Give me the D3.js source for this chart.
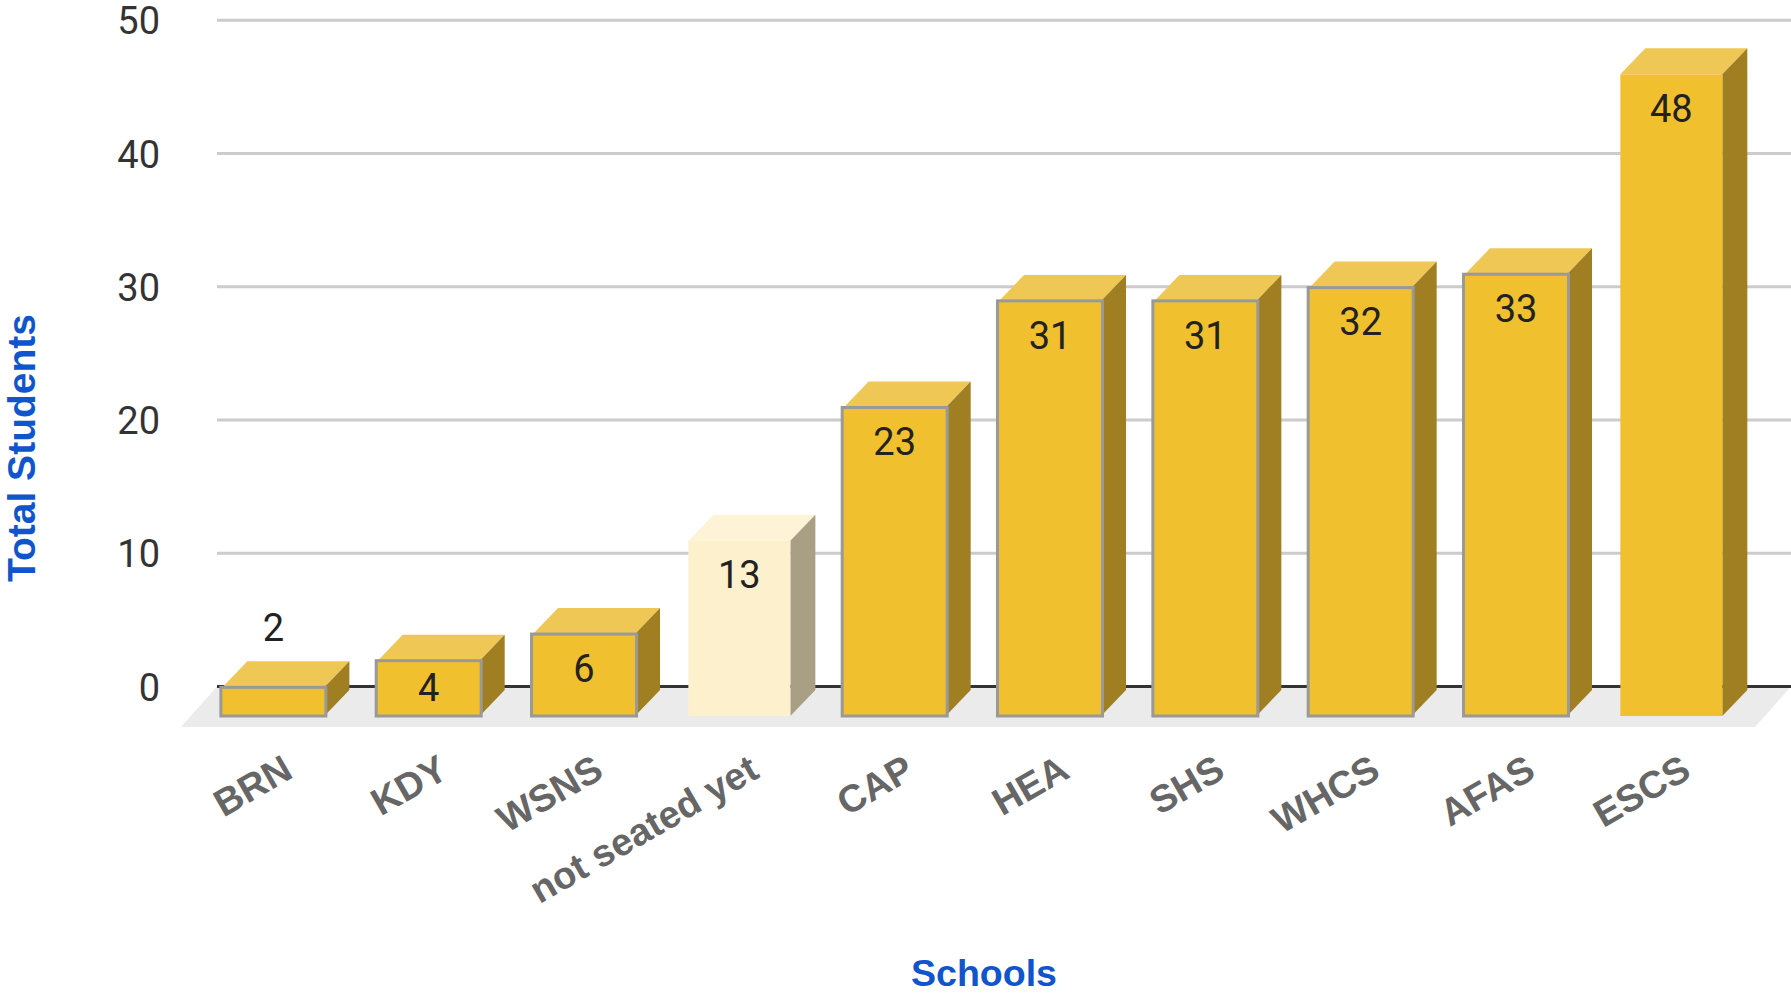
<!DOCTYPE html>
<html><head><meta charset="utf-8">
<script src="https://cdn.jsdelivr.net/npm/d3@7"></script>
<style>html,body{margin:0;padding:0;background:#fff;overflow:hidden}svg{display:block}</style>
</head><body><svg id="c" width="1791" height="993"></svg>
<script>
const categories=["BRN","KDY","WSNS","not seated yet","CAP","HEA","SHS","WHCS","AFAS","ESCS"];
const values=[2,4,6,13,23,31,31,32,33,48];
const yTicks=[0,10,20,30,40,50];
const xTitle="Schools", yTitle="Total Students";

const W=1791,H=993;
const gridL=217,gridR=1791,wallY0=686.5,wallY50=20.2;
const depthX=25,depthY=26,floorFront=727,frontBase=715.5;
const pale=new Set(["not seated yet"]), borderless=new Set(["not seated yet","ESCS"]);
const svg=d3.select("#c");
const x=d3.scaleBand().domain(categories).range([195.7,1749]).paddingInner(0).paddingOuter(0);
const y=d3.scaleLinear().domain([0,50]).range([wallY0,wallY50]);
const front=v=>y(v)+(frontBase-wallY0);
const bw=102;
const cx=c=>x(c)+x.bandwidth()/2;

// floor
svg.append("path").attr("d",d3.line()([[gridL,wallY0],[gridR,wallY0],[1755,floorFront],[181,floorFront]])).attr("fill","#ebebeb");
// axis & grid
const axis=d3.axisLeft(y).tickValues(yTicks).tickSize(0).tickPadding(0);
const gy=svg.append("g").attr("transform",`translate(160,0)`).call(axis);
gy.select(".domain").remove();
gy.selectAll("text").attr("font-family","Roboto").attr("font-size",38).attr("fill","#333").attr("x",0).attr("dy","0.36em");
svg.append("g").selectAll("line").data(yTicks).join("line")
  .attr("x1",gridL).attr("x2",gridR).attr("y1",d=>y(d)).attr("y2",d=>y(d))
  .attr("stroke",d=>d===0?"#333":"#ccc").attr("stroke-width",3);

// bars
const g=svg.append("g").selectAll("g").data(categories.map((c,i)=>({c,v:values[i]}))).join("g");
g.each(function(d){
  const s=d3.select(this);
  const p=pale.has(d.c), b=!borderless.has(d.c);
  const L=cx(d.c)-bw/2, R=cx(d.c)+bw/2, T=front(d.v)-1.5, B=front(0)+0.5;
  s.append("path").attr("d",d3.line()([[L,T],[L+depthX,T-depthY],[R+depthX,T-depthY],[R,T]])).attr("fill",p?"#fef3d6":"#efc755");
  s.append("path").attr("d",d3.line()([[R,T],[R+depthX,T-depthY],[R+depthX,B-depthY],[R,B]])).attr("fill",p?"#a89f85":"#a07f22");
  const e=b?1.5:0;
  s.append("rect").attr("x",L-e).attr("y",T).attr("width",bw+2*e).attr("height",B-T)
    .attr("fill",p?"#fdf0cd":"#f0c02f").attr("stroke",b?"#999":"none").attr("stroke-width",3);
  const h=B-T;
  const ly=d.v<3?T-60:T+Math.min(34,h/2-1);
  s.append("text").attr("x",cx(d.c)).attr("y",ly).attr("dy","0.36em").attr("text-anchor","middle")
    .attr("font-family","Roboto").attr("font-size",38).attr("fill","#222").text(d.v);
  s.append("text").attr("transform",`translate(${cx(d.c)+21.5},${776.5}) rotate(-30)`)
    .attr("text-anchor","end").attr("font-family","Liberation Sans").attr("font-weight","bold")
    .attr("font-size",38).attr("fill","#666").text(d.c);
});
// titles
svg.append("text").attr("x",984).attr("y",986).attr("text-anchor","middle").attr("font-family","Liberation Sans").attr("font-weight","bold").attr("font-size",37).attr("textLength",146).attr("lengthAdjust","spacingAndGlyphs").attr("fill","#1155cc").text(xTitle);
svg.append("text").attr("transform","translate(35,448) rotate(-90)").attr("text-anchor","middle").attr("font-family","Liberation Sans").attr("font-weight","bold").attr("font-size",38).attr("textLength",268).attr("lengthAdjust","spacingAndGlyphs").attr("fill","#1155cc").text(yTitle);
</script></body></html>
